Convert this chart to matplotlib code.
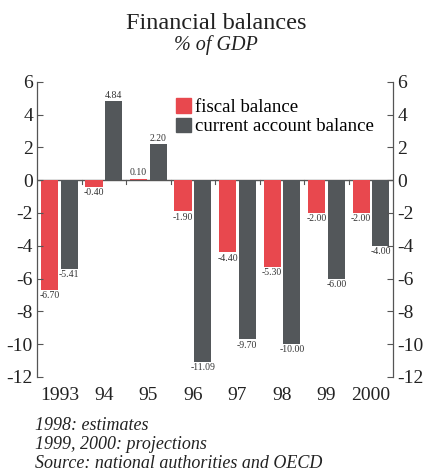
import matplotlib.pyplot as plt
import numpy as np
from matplotlib.patches import Patch

plt.rcParams['font.family'] = ['Liberation Serif', 'DejaVu Serif']

# data
years = ['1993', '94', '95', '96', '97', '98', '99', '2000']
fiscal = [-6.70, -0.40, 0.10, -1.90, -4.40, -5.30, -2.00, -2.00]
current = [-5.41, 4.84, 2.20, -11.09, -9.70, -10.00, -6.00, -4.00]
yticks = [6, 4, 2, 0, -2, -4, -6, -8, -10, -12]
notes = ['1998: estimates', '1999, 2000: projections',
         'Source: national authorities and OECD']

red = '#e8484e'
grey = '#53575a'
txt = '#333333'

fig = plt.figure(figsize=(4.27, 4.71), dpi=100)
ax = fig.add_axes([0.087, 0.2, 0.834, 0.626])

x = np.arange(len(years))
w = 0.39
b1 = ax.bar(x - 0.22, fiscal, w, color=red)
b2 = ax.bar(x + 0.22, current, w, color=grey)

# value labels
for bars, vals in ((b1, fiscal), (b2, current)):
    for rect, v in zip(bars, vals):
        cx = rect.get_x() + rect.get_width() / 2
        if v >= 0:
            ax.annotate(f'{v:.2f}', (cx, v), xytext=(0, 1), textcoords='offset points',
                        ha='center', va='bottom', fontsize=7, color=txt)
        else:
            ax.annotate(f'{v:.2f}', (cx, v), xytext=(0, -1), textcoords='offset points',
                        ha='center', va='top', fontsize=7, color=txt)

ax.axhline(0, color='#555555', lw=1, zorder=0)
# small ticks at category boundaries on the zero line
for b in x[1:] - 0.5:
    ax.plot([b, b], [0, -0.25], color='#555555', lw=0.8)

ax.set_xlim(-0.5, len(years) - 0.5)
ax.set_ylim(-12, 6)
ax.set_yticks(yticks)
ax.set_yticklabels([str(t) for t in yticks])
ax.set_xticks(x)
ax.set_xticklabels(years)
ax.tick_params(axis='x', length=0, pad=7, labelsize=14, colors='#222222')
ax.tick_params(axis='y', direction='in', length=4, width=0.8, color='#555555',
               labelsize=14, labelcolor='#222222', left=True, right=True,
               labelleft=True, labelright=True, pad=3)
for s in ['top', 'bottom']:
    ax.spines[s].set_visible(False)
for s in ['left', 'right']:
    ax.spines[s].set_color('#555555')
    ax.spines[s].set_linewidth(0.9)

handles = [Patch(color=red, label='fiscal balance'),
           Patch(color=grey, label='current account balance')]
ax.legend(handles=handles, loc='upper left', bbox_to_anchor=(0.39, 0.945),
          frameon=False, fontsize=13.5, handlelength=0.8, handleheight=0.8,
          handletextpad=0.2, labelspacing=0.1, borderpad=0, borderaxespad=0)

fig.text(0.506, 0.951, 'Financial balances', ha='center', va='center',
         fontsize=17.5, color='#222222')
fig.text(0.506, 0.905, '% of GDP', ha='center', va='center',
         fontsize=14.5, style='italic', color='#222222')

for i, line in enumerate(notes):
    fig.text(0.082, 1 - (426 + 18.5 * i) / 471, line, ha='left', va='center',
             fontsize=13, style='italic', color='#222222')

fig.savefig('out.png', dpi=100)
